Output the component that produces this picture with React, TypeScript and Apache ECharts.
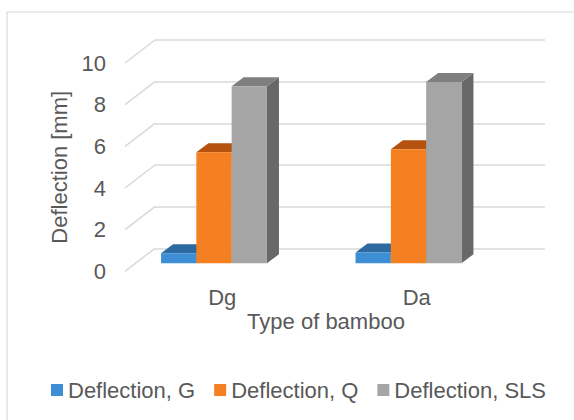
import React, { useEffect, useRef } from "react";
import * as echarts from "echarts";

const categories = ["Dg", "Da"];
const seriesNames = ["Deflection, G", "Deflection, Q", "Deflection, SLS"];
const deflectionG = [0.48, 0.52];
const deflectionQ = [5.33, 5.47];
const deflectionSLS = [8.5, 8.7];
const yTicks = [0, 2, 4, 6, 8, 10];

const frontColors = ["#3E8ED5", "#F58021", "#A5A5A5"];
const topColors = ["#2D6AA0", "#B5520F", "#7F7F7F"];
const sideColors = ["#2A5F8F", "#A9490C", "#686868"];

const TEXT = "#595959";
const FONT = "Liberation Sans, Arial, sans-serif";
const DX = 12;
const DY = 9;

export default function App() {
  const ref = useRef<HTMLDivElement>(null);
  useEffect(() => {
    if (!ref.current) return;
    const chart = echarts.init(ref.current, null, { renderer: "svg" });
    const values = [deflectionG, deflectionQ, deflectionSLS];

    const barSeries = values.map((vals, si) => ({
      type: "custom",
      name: seriesNames[si],
      xAxisIndex: 1,
      yAxisIndex: 1,
      clip: false,
      z: 5 + si,
      itemStyle: { color: frontColors[si] },
      data: vals.map((v, ci) => [ci, v]),
      renderItem: (params: any, api: any) => {
        const c = api.value(0);
        const v = api.value(1);
        const base = api.coord([c, 0]);
        const top = api.coord([c, v]);
        const bw = api.size([1, 0])[0] * 0.1815;
        const x0 = base[0] + (si - 1.5) * bw;
        const yb = base[1];
        const yt = top[1];
        return {
          type: "group",
          children: [
            {
              type: "polygon",
              shape: {
                points: [
                  [x0 + bw, yt],
                  [x0 + bw + DX, yt - DY],
                  [x0 + bw + DX, yb - DY],
                  [x0 + bw, yb],
                ],
              },
              style: { fill: sideColors[si] },
            },
            {
              type: "polygon",
              shape: {
                points: [
                  [x0, yt],
                  [x0 + DX, yt - DY],
                  [x0 + bw + DX, yt - DY],
                  [x0 + bw, yt],
                ],
              },
              style: { fill: topColors[si] },
            },
            {
              type: "rect",
              shape: { x: x0, y: yt, width: bw, height: yb - yt },
              style: { fill: frontColors[si] },
            },
          ],
        };
      },
    }));

    const option: any = {
      animation: false,
      backgroundColor: "#ffffff",
      textStyle: { fontFamily: FONT },
      graphic: [
        {
          type: "rect",
          shape: { x: 7, y: 12, width: 620, height: 500 },
          style: { fill: "none", stroke: "#d9d9d9", lineWidth: 1.2 },
          silent: true,
        },
      ],
      legend: {
        left: 51,
        top: 379,
        padding: 0,
        itemWidth: 12,
        itemHeight: 12,
        itemGap: 19,
        icon: "rect",
        data: seriesNames,
        textStyle: { color: TEXT, fontSize: 22, lineHeight: 22, fontFamily: FONT },
      },
      grid: [
        { left: 155, right: 29, top: 40, bottom: 171.7 },
        { left: 116.75, right: 68.25, top: 55, bottom: 156.7 },
        { left: 125, right: 60, top: 63.3, bottom: 148.7 },
      ],
      xAxis: [
        { gridIndex: 0, type: "value", min: 0, max: 1, show: false },
        { gridIndex: 1, type: "category", data: categories, show: false },
        {
          gridIndex: 2,
          type: "category",
          data: categories,
          axisLine: { show: false },
          axisTick: { show: false },
          axisLabel: { color: TEXT, fontSize: 22, margin: 15, fontFamily: FONT },
          name: "Type of bamboo",
          nameLocation: "middle",
          nameGap: 39,
          nameTextStyle: { color: TEXT, fontSize: 22, padding: [0, 0, 0, 13], fontFamily: FONT },
        },
      ],
      yAxis: [
        {
          gridIndex: 0,
          type: "value",
          min: 0,
          max: 10,
          interval: 2,
          axisLine: { show: false },
          axisTick: { show: false },
          axisLabel: { show: false },
          splitLine: { lineStyle: { color: "#d9d9d9", width: 1.5 } },
        },
        { gridIndex: 1, type: "value", min: 0, max: 10, interval: 2, show: false },
        {
          gridIndex: 2,
          type: "value",
          min: 0,
          max: 10,
          interval: 2,
          axisLine: { show: false },
          axisTick: { show: false },
          splitLine: { show: false },
          axisLabel: { color: TEXT, fontSize: 22, margin: 19, fontFamily: FONT },
          name: "Deflection [mm]",
          nameLocation: "middle",
          nameGap: 52.5,
          nameTextStyle: { color: TEXT, fontSize: 22, fontFamily: FONT },
        },
      ],
      series: [
        {
          type: "custom",
          xAxisIndex: 0,
          yAxisIndex: 0,
          clip: false,
          silent: true,
          z: 1,
          data: yTicks.map((t) => [0, t]),
          renderItem: (params: any, api: any) => {
            const p = api.coord([0, api.value(1)]);
            return {
              type: "line",
              shape: { x1: p[0], y1: p[1], x2: p[0] - 30, y2: p[1] + 23 },
              style: { stroke: "#d9d9d9", lineWidth: 1.5 },
            };
          },
        },
        ...barSeries,
      ],
    };
    chart.setOption(option);
    return () => chart.dispose();
  }, []);

  return (
    <div
      ref={ref}
      style={{ position: "fixed", left: 0, top: 0, width: 574, height: 420 }}
    />
  );
}
